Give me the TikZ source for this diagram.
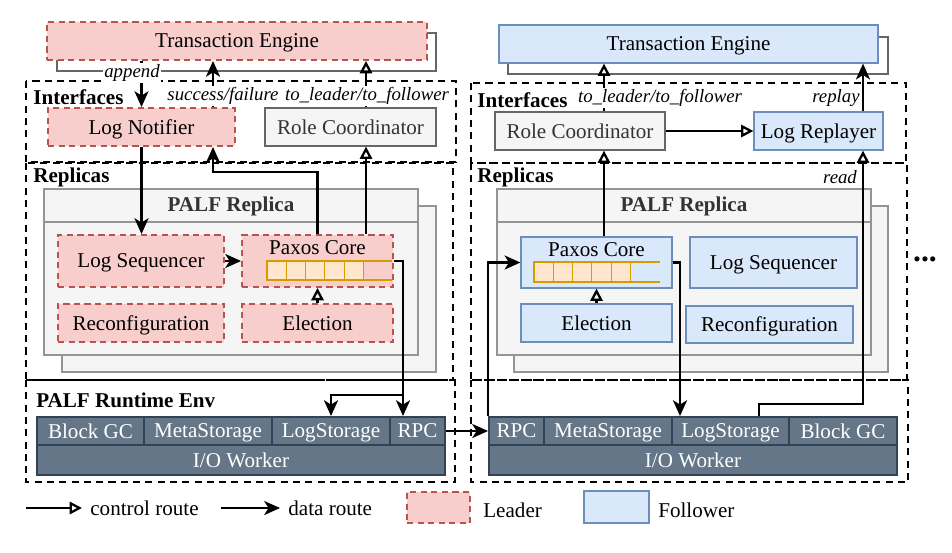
\documentclass[tikz,border=0pt]{standalone}
\usepackage{fontspec}
\setmainfont{Liberation Serif}
\usetikzlibrary{arrows.meta}

\definecolor{leadfill}{HTML}{F8CECC}
\definecolor{leadline}{HTML}{B85450}
\definecolor{follfill}{HTML}{DAE8FC}
\definecolor{follline}{HTML}{6C8EBF}
\definecolor{grayfill}{HTML}{F5F5F5}
\definecolor{grayline}{HTML}{666666}
\definecolor{graytext}{HTML}{333333}
\definecolor{envfill}{HTML}{647687}
\definecolor{envline}{HTML}{314354}
\definecolor{cellfill}{HTML}{FFE6CC}
\definecolor{cellline}{HTML}{D79B00}

\tikzset{
	datatip/.tip={Stealth[length=9pt,width=8pt,inset=2.5pt]},
	ctrltip/.tip={Triangle[open,length=7pt,width=7pt]}
}

\begin{document}
\begin{tikzpicture}[x=0.02cm, y=-0.02cm,
	every node/.style={font=\fontsize{12}{14}\selectfont, inner sep=0pt},
	leader/.style={draw=leadline, fill=leadfill, line width=1.1pt, dash pattern=on 3.5pt off 2.5pt, text depth=0pt},
	follower/.style={draw=follline, fill=follfill, line width=0.7pt, text depth=0pt},
	coord/.style={draw=grayline, fill=grayfill, text=graytext, line width=0.7pt, text depth=0pt},
	env/.style={draw=envline, fill=envfill, text=white, line width=1.1pt, text depth=0pt},
	area/.style={draw, line width=1.2pt, dash pattern=on 4pt off 3pt},
	data/.style={draw, line width=1.3pt, -datatip},
	ctrl/.style={draw, line width=1.3pt, -ctrltip},
	tag/.style={font=\fontsize{10.7}{12}\selectfont\itshape, fill=white, inner sep=0.6pt},
	title/.style={font=\fontsize{12}{14}\selectfont\bfseries, anchor=west},
	replica/.style={draw=grayline!70, fill=grayfill, line width=0.7pt}]
	\useasboundingbox (0,0) rectangle (952,552);

	% dashed areas
	\draw[area] (26,81) rectangle (456,162);
	\draw[area] (26,163) rectangle (453,380);
	\draw[area] (26,380) rectangle (455,482);
	\draw[area] (471,83) rectangle (906,163);
	\draw[area] (471,163) rectangle (907,380);
	\draw[area] (471,380) rectangle (908,482);

	\node[title] at (33,97) {Interfaces};
	\node[title] at (33,177) {Replicas};
	\node[title] at (36,400) {PALF Runtime Env};
	\node[title] at (477,100) {Interfaces};
	\node[title] at (477,177) {Replicas};

	% leader side
	\draw[grayline, fill=white, line width=0.8pt] (57,33) rectangle (436,71);
	\node[leader, minimum width=7.6cm, minimum height=0.76cm] (teL) at (237,41) {Transaction Engine};
	\node[leader, minimum width=3.74cm, minimum height=0.76cm] (notL) at (141.5,127) {Log Notifier};
	\node[coord, minimum width=3.42cm, minimum height=0.76cm] (rcL) at (350.5,127) {Role Coordinator};

	\draw[replica] (62,206) rectangle (436,372);
	\draw[replica] (44,189) rectangle (418,355);
	\draw[replica] (44,222) -- (418,222);
	\node[font=\fontsize{12}{14}\selectfont\bfseries, text=graytext] at (231,206) {PALF Replica};

	\node[leader, minimum width=3.32cm, minimum height=1.04cm] (seqL) at (141,261) {Log Sequencer};
	\node[leader, minimum width=3.02cm, minimum height=1.04cm,
		label={[anchor=north, yshift=-3.5pt]north:Paxos Core}] (paxL) at (317.5,261) {};
	\node[leader, minimum width=3.32cm, minimum height=0.76cm] (recL) at (141,323) {Reconfiguration};
	\node[leader, minimum width=3.02cm, minimum height=0.76cm] (eleL) at (317.5,323) {Election};
	\foreach \i in {0,...,4}
		\draw[cellline, fill=cellfill, line width=0.6pt] ({267+19.3*\i},261) rectangle ({286.3+19.3*\i},280);
	\draw[cellline, line width=0.6pt] (363.5,261) -- (392,261) (363.5,280) -- (392,280);

	\node[env, minimum width=2.14cm, minimum height=0.56cm] (gcL) at (90.5,431) {Block GC};
	\node[env, minimum width=2.56cm, minimum height=0.56cm] (metaL) at (208,431) {MetaStorage};
	\node[env, minimum width=2.36cm, minimum height=0.56cm] (lsL) at (331,431) {LogStorage};
	\node[env, minimum width=1.1cm, minimum height=0.56cm] (rpcL) at (417.5,431) {RPC};
	\node[env, minimum width=8.16cm, minimum height=0.6cm] (ioL) at (241,460) {I/O Worker};

	% follower side
	\draw[grayline, fill=white, line width=0.8pt] (508,37) rectangle (888,74);
	\node[follower, minimum width=7.58cm, minimum height=0.76cm] (teR) at (688.5,44) {Transaction Engine};
	\node[coord, minimum width=3.4cm, minimum height=0.76cm] (rcR) at (580,131) {Role Coordinator};
	\node[follower, minimum width=2.58cm, minimum height=0.76cm] (lrR) at (818.5,131) {Log Replayer};

	\draw[replica] (514,206) rectangle (888,372);
	\draw[replica] (497,189) rectangle (871,355);
	\draw[replica] (497,222) -- (871,222);
	\node[font=\fontsize{12}{14}\selectfont\bfseries, text=graytext] at (684,206) {PALF Replica};

	\node[follower, minimum width=3.02cm, minimum height=1.02cm,
		label={[anchor=north, yshift=-3.5pt]north:Paxos Core}] (paxR) at (596.5,262.5) {};
	\node[follower, minimum width=3.34cm, minimum height=1.02cm] (seqR) at (773.5,262.5) {Log Sequencer};
	\node[follower, minimum width=3.02cm, minimum height=0.76cm] (eleR) at (596.5,323) {Election};
	\node[follower, minimum width=3.34cm, minimum height=0.74cm] (recR) at (769.5,324.5) {Reconfiguration};
	\foreach \i in {0,...,4}
		\draw[cellline, fill=cellfill, line width=0.6pt] ({534+19.3*\i},262) rectangle ({553.3+19.3*\i},282);
	\draw[cellline, line width=0.6pt] (630.5,262) -- (660,262) (630.5,282) -- (660,282);

	\node[env, minimum width=1.1cm, minimum height=0.56cm] (rpcR) at (516.5,431) {RPC};
	\node[env, minimum width=2.56cm, minimum height=0.56cm] (metaR) at (608,431) {MetaStorage};
	\node[env, minimum width=2.34cm, minimum height=0.56cm] (lsR) at (730.5,431) {LogStorage};
	\node[env, minimum width=2.16cm, minimum height=0.56cm] (gcR) at (843,431) {Block GC};
	\node[env, minimum width=8.16cm, minimum height=0.6cm] (ioR) at (693,460) {I/O Worker};

	\node[font=\fontsize{18}{20}\selectfont\bfseries] at (925,259) {...};

	% routes
	\coordinate (sf) at (213,0);
	\coordinate (tl) at (366,0);
	\coordinate (rx) at (403,395);
	\coordinate (tr) at (604,0);
	\coordinate (rp) at (863,0);
	\coordinate (pd) at (680,0);
	\coordinate (rd) at (759,404);

	\draw[data] (notL.north |- teL.south) -- (notL.north);
	\draw[data] (notL.north -| sf) -- (teL.south -| sf);
	\draw[ctrl] (rcL.north -| tl) -- (teL.south -| tl);
	\draw[data] (paxL.north) -- ++(0,-62) -| (notL.south -| sf);
	\draw[ctrl] (paxL.north -| tl) -- (rcL.south -| tl);
	\draw[data] (notL.south) -- (notL.south |- seqL.north);
	\draw[data] (seqL.east) -- (paxL.west);
	\draw[ctrl] (eleL.north) -- (paxL.south);
	\draw[data] (paxL.east) -| (rpcL.north -| rx);
	\draw[data] (rx) -| (lsL.north);
	\draw[data] (rpcL.east) -- (rpcR.west);

	\draw[ctrl] (rcR.north -| tr) -- (teR.south -| tr);
	\draw[data] (lrR.north -| rp) -- (teR.south -| rp);
	\draw[ctrl] (rcR.east) -- (lrR.west);
	\draw[ctrl] (lsR.north -| rd) -- (rd) -| (lrR.south -| rp);
	\draw[data] (paxR.east) -| (lsR.north -| pd);
	\draw[data] (rpcR.north west) |- (paxR.west);
	\draw[ctrl] (eleR.north) -- (paxR.south);
	\draw[ctrl] (paxR.north -| tr) -- (rcR.south -| tr);

	\node[tag] at (132,73) {append};
	\node[tag] at (223,96) {success/failure};
	\node[tag] at (367,96) {to\_leader/to\_follower};
	\node[tag] at (660,98) {to\_leader/to\_follower};
	\node[tag] at (836,98) {replay};
	\node[tag] at (840,177) {read};

	% legend
	\coordinate (c1) at (26,508);
	\coordinate (c2) at (82,508);
	\coordinate (d1) at (221,508);
	\coordinate (d2) at (280,508);
	\draw[ctrl] (c1) -- (c2);
	\node[anchor=west] at (90,508) {control route};
	\draw[data] (d1) -- (d2);
	\node[anchor=west] at (288,508) {data route};
	\node[leader, minimum width=1.26cm, minimum height=0.62cm] (keyL) at (438.5,507.5) {};
	\node[anchor=west] at (483,510) {Leader};
	\node[follower, minimum width=1.3cm, minimum height=0.64cm] (keyF) at (616.5,507) {};
	\node[anchor=west] at (658,510) {Follower};
\end{tikzpicture}
\end{document}
